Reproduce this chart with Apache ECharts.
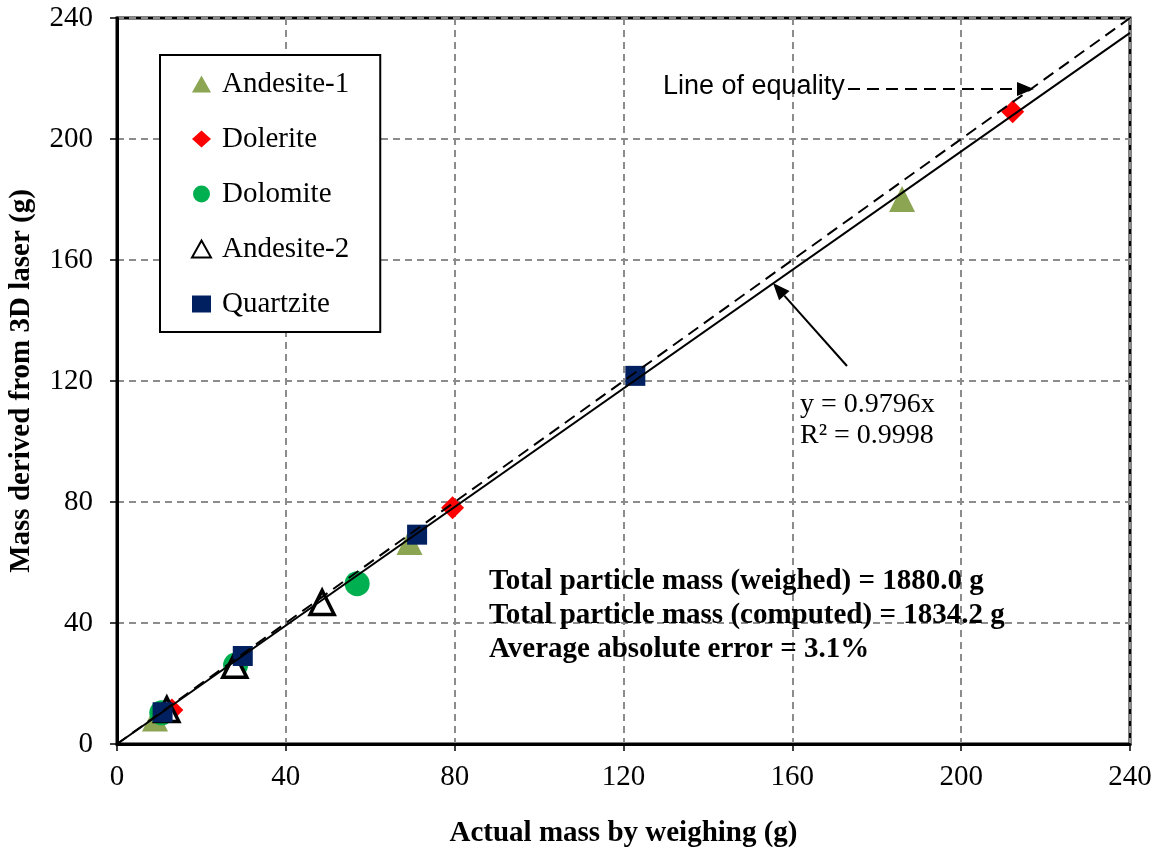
<!DOCTYPE html>
<html><head><meta charset="utf-8">
<script src="https://cdn.jsdelivr.net/npm/echarts@6/dist/echarts.min.js"></script>
<style>html,body{margin:0;padding:0;background:#fff}#c{width:1159px;height:855px}</style>
</head><body><div id="c"></div>
<script>
// ---- data ----
const seriesNames = ['Andesite-1', 'Dolerite', 'Dolomite', 'Andesite-2', 'Quartzite'];
const andesite1 = [[9.0, 8.4], [69.3, 66.8], [186.0, 180.2]];
const dolerite = [[13.0, 11.2], [79.5, 78.1], [212.2, 209.0]];
const dolomite = [[10.6, 10.3], [28.1, 26.1], [56.9, 53.0]];
const andesite2 = [[11.8, 11.4], [27.9, 26.0], [48.6, 46.8]];
const quartzite = [[10.8, 10.5], [29.8, 29.1], [71.1, 69.2], [122.8, 121.7]];
const trendSlope = 0.9796;
const axisMin = 0, axisMax = 240, axisStep = 40;
const equalityLine = [[axisMin, axisMin], [axisMax, axisMax]];
const trendLine = [[axisMin, axisMin * trendSlope], [axisMax, axisMax * trendSlope]];
const statsLines = ['Total particle mass (weighed) = 1880.0 g', 'Total particle mass (computed) = 1834.2 g', 'Average absolute error = 3.1%'];

const serif = '"Liberation Serif", "Times New Roman", serif';
const sans = '"Liberation Sans", Arial, sans-serif';
const chart = echarts.init(document.getElementById('c'), null, {renderer: 'canvas'});

const axisCommon = {
  type: 'value', min: axisMin, max: axisMax, interval: axisStep,
  axisLine: {show: true, onZero: false, lineStyle: {color: '#000', width: 3}},
  axisTick: {show: true, inside: false, length: 7, lineStyle: {color: '#000', width: 1.5}},
  splitLine: {show: true, lineStyle: {color: '#8c8c8c', width: 2, type: [7, 5]}},
  axisLabel: {color: '#000', fontFamily: serif, fontSize: 29},
  nameTextStyle: {color: '#000', fontFamily: serif, fontSize: 29, fontWeight: 'bold'}
};

const option = {
  backgroundColor: '#fff',
  animation: false,
  grid: {left: 117, right: 29, top: 18, bottom: 111, containLabel: false, outerBoundsMode: 'none',
         show: true, borderColor: '#000', borderWidth: 3, backgroundColor: 'transparent'},
  xAxis: Object.assign({}, axisCommon, {
    name: 'Actual mass by weighing (g)', nameLocation: 'middle', nameGap: 75,
    axisLabel: Object.assign({}, axisCommon.axisLabel, {margin: 19})
  }),
  yAxis: Object.assign({}, axisCommon, {
    name: 'Mass derived from 3D laser (g)', nameLocation: 'middle', nameGap: 81, nameRotate: 90,
    axisLabel: Object.assign({}, axisCommon.axisLabel, {margin: 24})
  }),
  legend: {
    orient: 'vertical', left: 160, top: 55,
    padding: [14, 31, 13, 31], itemGap: 25,
    itemWidth: 19, itemHeight: 17,
    borderColor: '#000', borderWidth: 2, backgroundColor: '#fff',
    textStyle: {fontFamily: serif, fontSize: 29, color: '#000', lineHeight: 30, padding: [0, 0, 0, 6]},
    data: [
      {name: 'Andesite-1', icon: 'triangle'},
      {name: 'Dolerite', icon: 'diamond'},
      {name: 'Dolomite', icon: 'circle'},
      {name: 'Andesite-2', icon: 'triangle'},
      {name: 'Quartzite', icon: 'rect'}
    ]
  },
  series: [
    {name: seriesNames[0], type: 'scatter', symbol: 'triangle', symbolSize: 26, data: andesite1, z: 2,
     itemStyle: {color: '#8BA552', opacity: 1}},
    {name: seriesNames[1], type: 'scatter', symbol: 'diamond', symbolSize: 23, data: dolerite, z: 2,
     itemStyle: {color: '#FF0000', opacity: 1}},
    {name: seriesNames[2], type: 'scatter', symbol: 'circle', symbolSize: 25, data: dolomite, z: 2,
     itemStyle: {color: '#00B050', opacity: 1}},
    {name: seriesNames[3], type: 'scatter', symbol: 'triangle', symbolSize: 24, data: andesite2, z: 2,
     itemStyle: {color: '#fff', borderColor: '#000', borderWidth: 3.5, opacity: 1}},
    {name: seriesNames[4], type: 'scatter', symbol: 'rect', symbolSize: 20, data: quartzite, z: 2,
     itemStyle: {color: '#002060', opacity: 1}},
    {name: 'equality', type: 'line', data: equalityLine, symbol: 'none', z: 5, silent: true,
     lineStyle: {color: '#000', width: 2, type: [12, 7]}},
    {name: 'trend', type: 'line', data: trendLine, symbol: 'none', z: 5, silent: true,
     lineStyle: {color: '#000', width: 2, type: 'solid'}}
  ]
};
chart.setOption(option);

// annotations
const g = [];
g.push({type: 'text', left: 663, top: 73, z: 10, style: {text: 'Line of equality', font: '27px ' + sans, fill: '#000'}});
g.push({type: 'line', z: 10, shape: {x1: 848, y1: 89, x2: 1018, y2: 89}, style: {stroke: '#000', lineWidth: 2, lineDash: [12, 7]}});
g.push({type: 'polygon', z: 10, shape: {points: [[1034, 89], [1017, 82], [1017, 96]]}, style: {fill: '#000'}});
const tail = [847, 366], tip = [773, 283];
const dx = tip[0] - tail[0], dy = tip[1] - tail[1], L = Math.hypot(dx, dy);
const ux = dx / L, uy = dy / L, px = -uy, py = ux, ah = 17, aw = 7;
const bx = tip[0] - ux * ah, by = tip[1] - uy * ah;
g.push({type: 'line', z: 10, shape: {x1: tail[0], y1: tail[1], x2: bx, y2: by}, style: {stroke: '#000', lineWidth: 2}});
g.push({type: 'polygon', z: 10, shape: {points: [tip, [bx + px * aw, by + py * aw], [bx - px * aw, by - py * aw]]}, style: {fill: '#000'}});
g.push({type: 'text', left: 800, top: 389, z: 10, style: {text: 'y = 0.9796x\nR² = 0.9998', font: '28px ' + serif, fill: '#000', lineHeight: 31}});
g.push({type: 'text', left: 489, top: 565, z: 10, style: {text: statsLines.join('\n'), font: 'bold 29px ' + serif, fill: '#000', lineHeight: 34}});
chart.setOption({graphic: g});
</script></body></html>
